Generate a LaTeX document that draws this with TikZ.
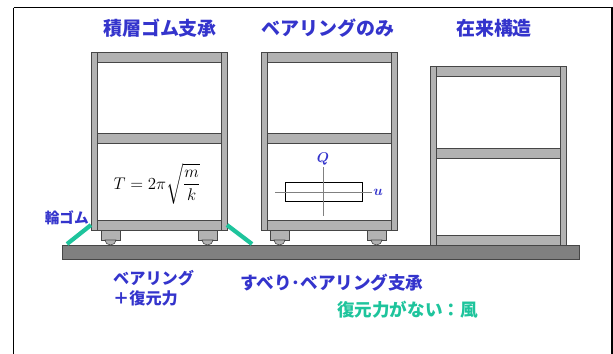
\documentclass[tikz,border=0pt]{standalone}
\usepackage{amsmath,bm}
\usepackage{fontspec}
\newfontfamily\jp{Noto Sans CJK JP}
\usetikzlibrary{positioning}
\definecolor{lblue}{RGB}{52,52,204}
\definecolor{lgreen}{RGB}{30,196,156}
\definecolor{postgray}{RGB}{178,178,178}
\definecolor{edgegray}{RGB}{70,70,70}
\definecolor{floorgray}{RGB}{128,128,128}
\tikzset{
  title/.style={font=\jp\bfseries\fontsize{16.2}{19}\selectfont,text=lblue,inner sep=0pt},
  lbl/.style={font=\jp\bfseries\fontsize{15}{18}\selectfont,text=lblue,inner sep=0pt},
  part/.style={fill=postgray,draw=edgegray,line width=0.5pt},
  band/.style={line width=3.6pt,lgreen}
}
% 棚 (#1: 左端x, #2: 上端, #3: 中段の上, #4: 下端)
\newcommand{\rack}[4]{%
  \fill[white] (#1,#2) rectangle (#1+136,#4);
  \draw[part] (#1,#2) rectangle (#1+6,#4);
  \draw[part] (#1+130,#2) rectangle (#1+136,#4);
  \draw[part] (#1+6,#2) rectangle (#1+130,#2+10);
  \draw[part] (#1+6,#3) rectangle (#1+130,#3+10);
  \draw[part] (#1+6,#4-10) rectangle (#1+130,#4);
}
% 脚 (#1: 左端x)
\newcommand{\foot}[1]{%
  \draw[part] (#1,230) rectangle (#1+19,240);
  \draw[part] (#1+4,240) -- (#1+15,240) arc[x radius=5.5,y radius=5,start angle=0,end angle=180] -- cycle;
}

\begin{document}
\begin{tikzpicture}[x=0.03cm,y=-0.03cm]
\useasboundingbox (0,0) rectangle (613,353);
% 枠
\draw[line width=1.4pt] (13.5,7.5) -- (612,7.5) -- (612,360);
\draw[line width=1.4pt] (13.5,7.5) -- (13.5,360);
% 床
\draw[fill=floorgray,draw=edgegray,line width=0.6pt] (62,245) rectangle (579,259);
% 棚3つ
\rack{91}{52}{133}{230}
\rack{261}{52}{133}{230}
\rack{430}{66}{148}{245}
\foot{101}
\foot{198}
\foot{270}
\foot{367}
% 輪ゴム
\draw[band] (67,244) -- (91,225);
\draw[band] (227,225) -- (252,244);
% 見出し
\node[title] (t1) at (160,28) {積層ゴム支承};
\node[title] (t2) at (328,28) {ベアリングのみ};
\node[title] (t3) at (494,28) {在来構造};
% 周期の式
\node[anchor=base,inner sep=0pt,font=\fontsize{15}{18}\selectfont] (eq) at (157,189)
  {$\displaystyle T=2\pi\sqrt{\frac{m}{k}}$};
% 荷重-変位
\coordinate (qtop) at (323,167);
\coordinate (qbot) at (323,216);
\coordinate (uleft) at (275,192);
\coordinate (uright) at (372,192);
\draw[line width=0.5pt] (285,182) rectangle (362,201);
\draw[gray,line width=0.7pt] (qtop) -- (qbot);
\draw[gray,line width=0.7pt] (uleft) -- (uright);
\node[text=lblue,font=\fontsize{12.5}{14}\selectfont,inner sep=1pt,above=0pt of qtop] (Q) {$\bm{Q}$};
\node[text=lblue,font=\fontsize{12.5}{14}\selectfont,inner sep=1pt,right=0pt of uright] (u) {$\bm{u}$};
% 下の説明
\node[lbl,anchor=east,font=\jp\bfseries\fontsize{12.5}{15}\selectfont] (ring) at (89,218) {輪ゴム};
\node[lbl,anchor=north west,align=left,font=\jp\bfseries\fontsize{13.8}{17}\selectfont] (bear) at (113,270) {ベアリング\\＋復元力};
\node[lbl,anchor=west] (slide) at (240,283) {すべり･ベアリング支承};
\node[lbl,anchor=west,text=lgreen] (wind) at (337,310) {復元力がない：風};
\end{tikzpicture}
\end{document}
